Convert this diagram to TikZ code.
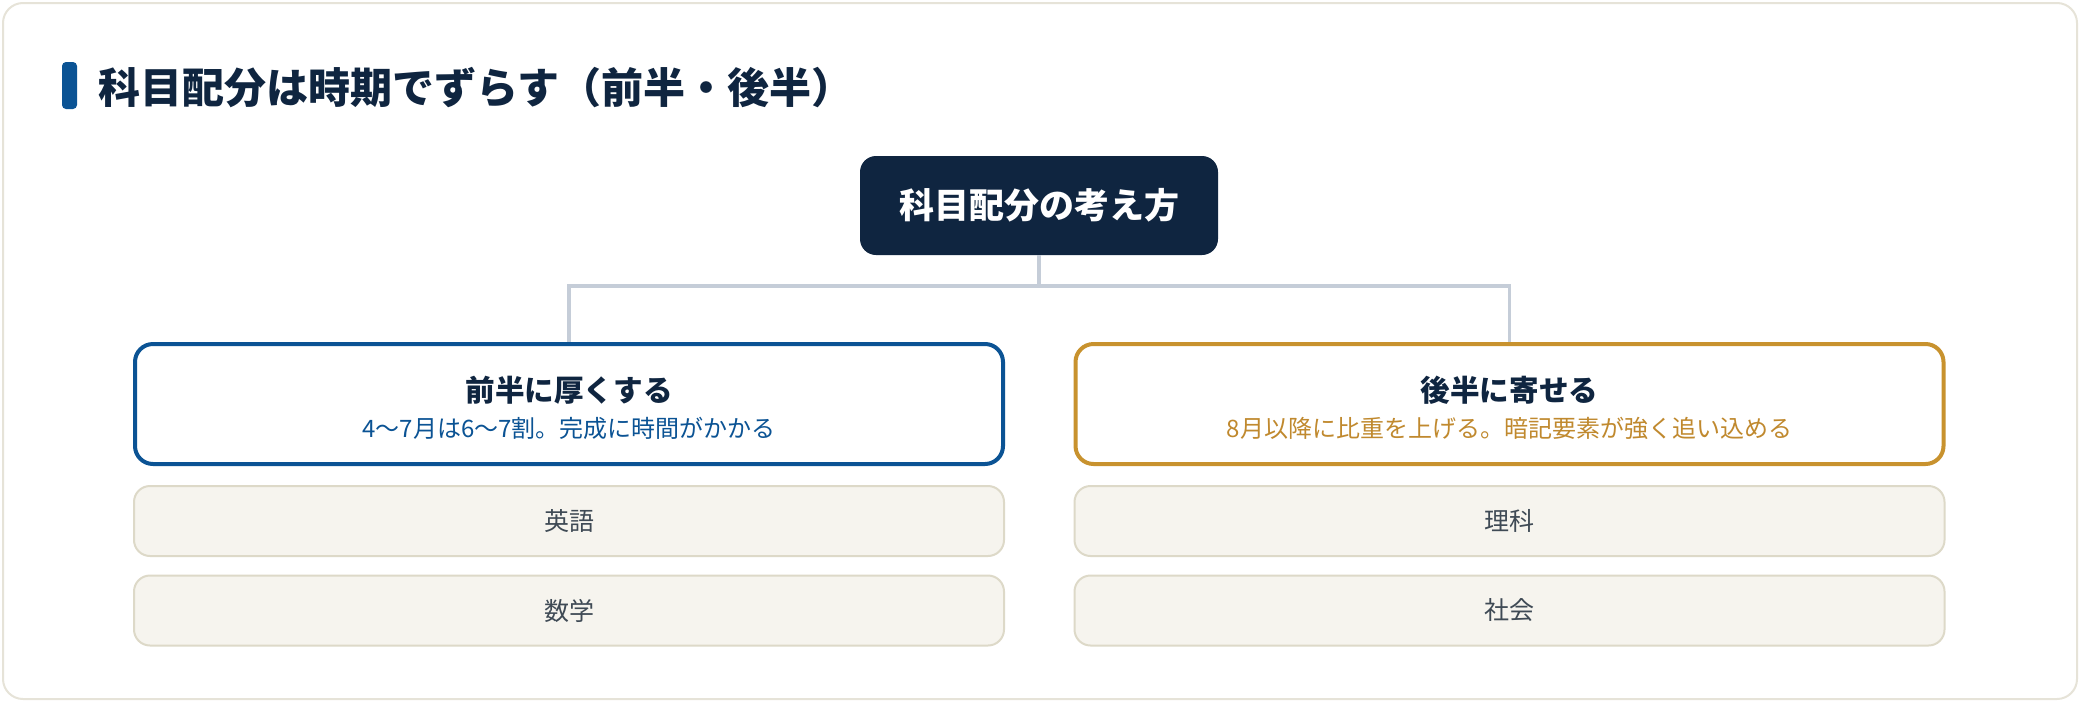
\documentclass[tikz,border=0pt]{standalone}
\usepackage{fontspec}
\setmainfont{Noto Sans CJK JP}
\usepackage{tikz}
\usepackage{xcolor}
\definecolor{navy}{HTML}{0F2540}
\definecolor{accent}{HTML}{0B5394}
\definecolor{gold}{HTML}{C8922E}
\definecolor{goldtext}{HTML}{C0892E}
\definecolor{cardline}{HTML}{E6E3D8}
\definecolor{linkgray}{HTML}{C5CDD8}
\definecolor{itemfill}{HTML}{F6F4EE}
\definecolor{itemline}{HTML}{DDD9C8}
\definecolor{itemtext}{HTML}{3F4A55}

\begin{document}
\begin{tikzpicture}[x=0.5pt,y=-0.5pt,
		concept/.style={fill=navy,rounded corners=8pt,minimum width=179pt,minimum height=49.5pt,text=white,font=\fontsize{17.5pt}{20pt}\selectfont\bfseries},
		phase/.style={draw=#1,line width=2pt,fill=white,rounded corners=9pt,minimum width=434pt,minimum height=60pt},
		item/.style={draw=itemline,line width=1pt,fill=itemfill,rounded corners=8pt,minimum width=435pt,minimum height=35pt,text=itemtext,font=\fontsize{12.5pt}{15pt}\selectfont},
		link/.style={draw=linkgray,line width=1.6pt}]
			\useasboundingbox (0,0) rectangle (2080,702);
			\draw[cardline,line width=1pt,fill=white,rounded corners=10pt] (3,3) rectangle (2077,699);
			\fill[accent,rounded corners=2pt] (62,62) rectangle (77,109);
			\node[anchor=west,text=navy,font=\fontsize{21pt}{24pt}\selectfont\bfseries,inner sep=0pt] (heading) at (98,88) {科目配分は時期でずらす（前半・後半）};

			\node[concept] (plan) at (1039,205.5) {科目配分の考え方};
			\coordinate (split) at (1039,286);

			\node[phase=accent] (front) at (569,404) {};
			\node[phase=gold] (back) at (1509.5,404) {};
			\node[text=navy,font=\fontsize{14.8pt}{17pt}\selectfont\bfseries] (fronttitle) at (569,390) {前半に厚くする};
			\node[text=accent,font=\fontsize{12pt}{14pt}\selectfont] (frontnote) at (569,428) {4〜7月は6〜7割。完成に時間がかかる};
			\node[text=navy,font=\fontsize{14.8pt}{17pt}\selectfont\bfseries] (backtitle) at (1509.5,390) {後半に寄せる};
			\node[text=goldtext,font=\fontsize{12pt}{14pt}\selectfont] (backnote) at (1509.5,428) {8月以降に比重を上げる。暗記要素が強く追い込める};

			\draw[link] (plan.south) -- (split);
			\draw[link] (split) -| (front.north);
			\draw[link] (split) -| (back.north);

			\foreach \name/\x/\y/\txt in {eng/569/521/英語, math/569/610.5/数学, sci/1509.5/521/理科, soc/1509.5/610.5/社会}
				\node[item] (\name) at (\x,\y) {\txt};
		\end{tikzpicture}
\end{document}
